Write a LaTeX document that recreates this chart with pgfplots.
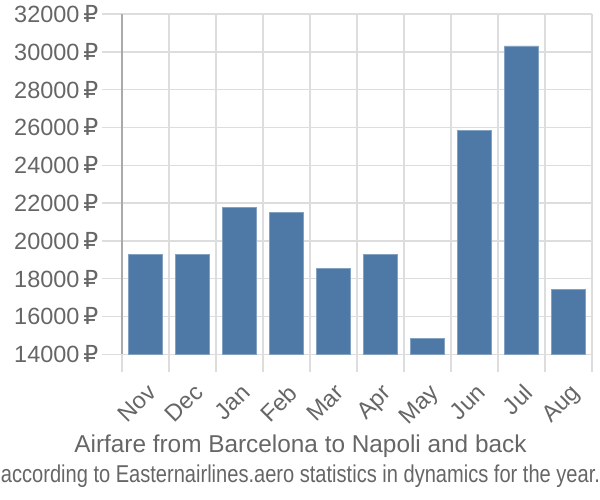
\documentclass[border=0pt]{standalone}
\usepackage{pgfplots}
\pgfplotsset{compat=1.18}
\usetikzlibrary{calc}
\usepackage{fontspec}
\setmainfont{Liberation Sans}
\newfontfamily\rub{DejaVu Sans}
\definecolor{barblue}{RGB}{78,121,167}
\definecolor{txt}{RGB}{102,102,102}
\definecolor{gridc}{RGB}{221,221,221}
\definecolor{axc}{RGB}{170,170,170}

\begin{document}
\begin{tikzpicture}[x=1pt,y=1pt]
\begin{axis}[
    scale only axis,
    width=471pt, height=341pt,
    xmin=-0.5, xmax=9.5,
    ymin=14000, ymax=32000,
    ytick={14000,16000,...,32000},
    scaled y ticks=false,
    yticklabel={\pgfmathprintnumber[fixed,1000 sep={}]{\tick}\,{\rub ₽}},
    xtick={0,...,9},
    xticklabels={Nov,Dec,Jan,Feb,Mar,Apr,May,Jun,Jul,Aug},
    minor xtick={-0.5,0.5,...,9.5},
    xminorgrids=true, ymajorgrids=true,
    grid style={gridc, line width=1.5pt},
    minor grid style={gridc, line width=1.5pt},
    axis x line*=bottom, axis y line*=left,
    x axis line style={gridc, line width=1.5pt, -},
    y axis line style={axc, line width=1.5pt, -},
    major x tick style={draw=none},
    minor x tick style={gridc, line width=1.5pt},
    y tick style={gridc, line width=1.5pt},
    tick align=outside,
    major tick length=20pt, minor tick length=18pt,
    ticklabel style={font=\fontsize{23.5}{26}\selectfont, text=txt},
    x tick label style={rotate=45, anchor=north east, xshift=-2pt, yshift=-3pt},
    y tick label style={xshift=0pt},
    /pgf/number format/assume math mode=true,
    axis on top=false,
    clip=false,
]
\addplot[ybar, bar width=0.72, fill=barblue, draw=barblue!70!white, line width=0.8pt, bar shift=0pt]
    coordinates {(0,19280)(1,19280)(2,21760)(3,21500)(4,18540)(5,19280)(6,14845)(7,25830)(8,30310)(9,17430)};
\coordinate (o) at (rel axis cs:0,0);
\end{axis}
\node[text=txt, font=\fontsize{24.4}{27}\selectfont, anchor=base, inner sep=0pt] at ($(o)+(179pt,-98pt)$) {Airfare from Barcelona to Napoli and back};
\node[text=txt, font=\fontsize{24.4}{27}\selectfont, anchor=base, xscale=0.824, inner sep=0pt] at ($(o)+(179pt,-128pt)$) {according to Easternairlines.aero statistics in dynamics for the year.};
\path[use as bounding box] ($(o)+(-122pt,-145pt)$) rectangle ++(600pt,500pt);
\end{tikzpicture}
\end{document}
